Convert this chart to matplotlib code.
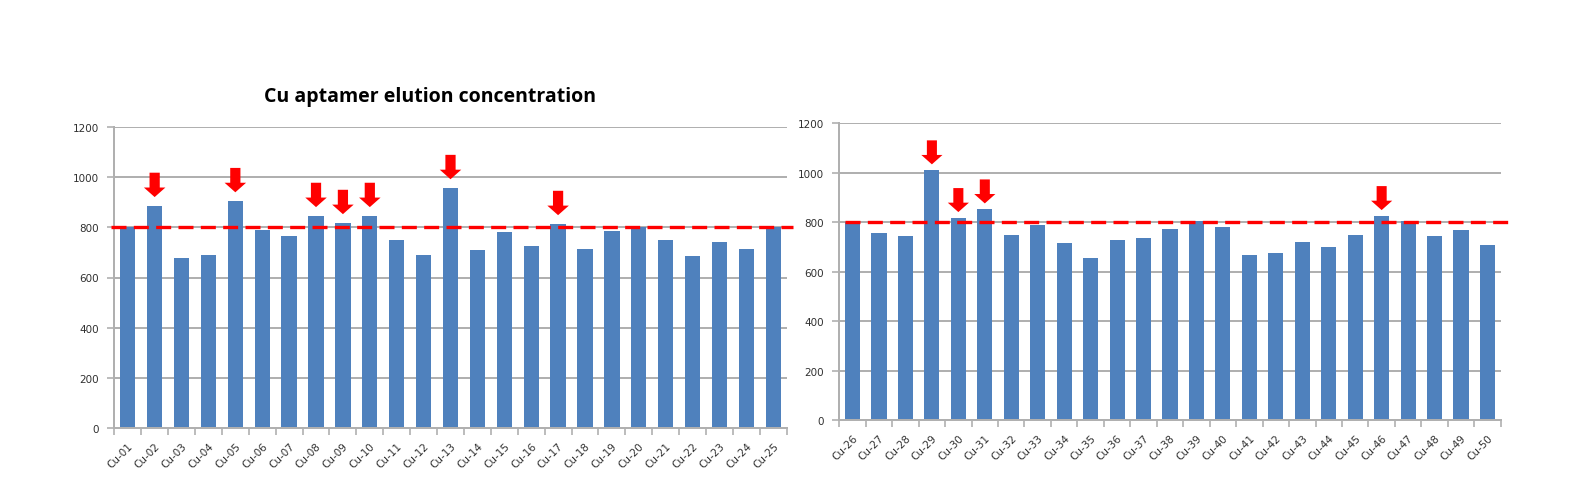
#!/usr/bin/env python3

import numpy as np
import matplotlib as mpl
mpl.use('Agg')
import matplotlib.pyplot as plt
from matplotlib.patches import FancyArrow

##~~~~~~~~ Data ~~~~~~~~~~~~
names_left = ['Cu-%02d' % i for i in range(1, 26)]
names_right = ['Cu-%02d' % i for i in range(26, 51)]
conc_left = [800, 885, 678, 691, 904, 789, 766, 845, 817, 845, 749, 691, 956,
             711, 781, 727, 813, 713, 785, 802, 749, 687, 743, 713, 802]
conc_right = [800, 758, 746, 1010, 817, 852, 750, 790, 715, 654, 727, 735, 774,
              805, 782, 667, 676, 719, 700, 750, 825, 805, 746, 769, 707]
marked_left = ['Cu-02', 'Cu-05', 'Cu-08', 'Cu-09', 'Cu-10', 'Cu-13', 'Cu-17']
marked_right = ['Cu-29', 'Cu-30', 'Cu-31', 'Cu-46']
threshold = 800
yticks = [0, 200, 400, 600, 800, 1000, 1200]
title = 'Cu aptamer elution concentration'
##~~~~~~~~~~~~~~~~~~~~~~~~~~~

bar_color = '#4f81bd'
grid_color = '#b0b0b0'
W, H = 1581, 481

fig = plt.figure(figsize=(W/100, H/100), dpi=100)
ax1 = fig.add_axes([114.3/W, 1-429.3/H, (786.7-114.3)/W, (429.3-127.7)/H])
ax2 = fig.add_axes([839.3/W, 1-421.0/H, (1500.7-839.3)/W, (421.0-124.3)/H])

def draw_panel(ax, names, vals, marked, gap, line_x):
	x = np.arange(len(names))
	ax.bar(x, vals, width=0.57, color=bar_color, zorder=2)
	ax.set_xlim(-0.5, len(names)-0.5)
	ax.set_ylim(0, 1200)
	ax.set_yticks(yticks)
	ax.yaxis.grid(True, color=grid_color, lw=1.44, zorder=0)
	ax.set_axisbelow(True)
	for s in ['top', 'right']:
		ax.spines[s].set_visible(False)
	for s in ['left', 'bottom']:
		ax.spines[s].set_color(grid_color)
		ax.spines[s].set_linewidth(1.44)
	ax.set_xticks(x)
	ax.set_xticklabels(names, rotation=45, ha='right', rotation_mode='anchor',
		fontsize=7.5, color='#303030')
	ax.set_xticks(np.arange(-0.5, len(names)), minor=True)
	ax.tick_params(axis='x', which='major', length=0, pad=9)
	ax.tick_params(axis='x', which='minor', length=5, color=grid_color, width=1.2)
	ax.tick_params(axis='y', length=5, color=grid_color, width=1.2,
		labelsize=7.5, labelcolor='#303030', pad=6)
	# threshold line
	ax.plot(line_x, [threshold, threshold], ls=(0, (4.5, 2.2)), lw=2.4,
		color='#ff0000', clip_on=False, zorder=3)
	# red arrows over selected bars
	for n in marked:
		i = names.index(n)
		v = vals[i]
		tip = v + gap
		ax.add_patch(FancyArrow(i, tip+97, 0, -97, width=0.38, head_width=0.8,
			head_length=38, length_includes_head=True, color='#ff0000',
			lw=0, zorder=4, clip_on=False))

draw_panel(ax1, names_left, conc_left, marked_left, 35, [-0.62, 24.73])
draw_panel(ax2, names_right, conc_right, marked_right, 24, [-0.28, 24.77])

fig.text(430/W, 1-97/H, title, ha='center', va='center', fontsize=14,
	fontweight='bold', family=['Open Sans', 'DejaVu Sans'])

plt.savefig('out.png', dpi=100)
